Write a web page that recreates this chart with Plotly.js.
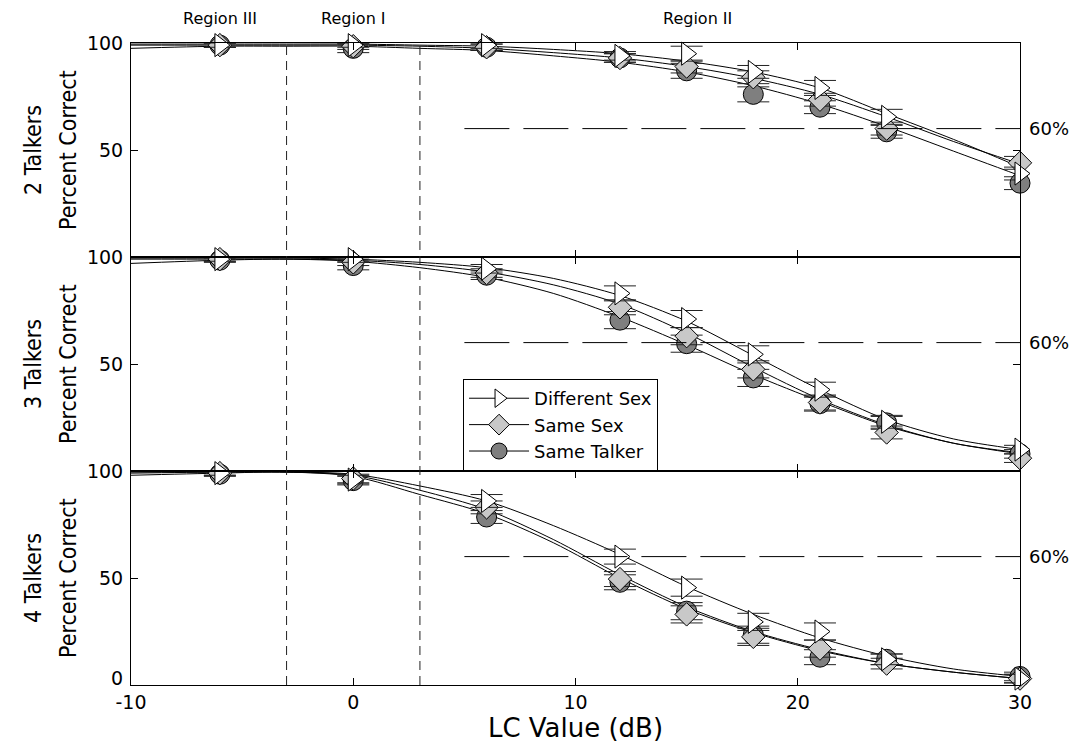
<!DOCTYPE html>
<html>
<head>
<meta charset="utf-8">
<script src="https://cdn.plot.ly/plotly-3.0.1.min.js"></script>
<style>html,body{margin:0;padding:0;background:#fff;}#chart{width:1080px;height:751px;}</style>
</head>
<body>
<div id="chart"></div>
<script>
// ---- data ----
const lcValues = [-6, 0, 6, 12, 15, 18, 21, 24, 30];
const seriesNames = ["Different Sex", "Same Sex", "Same Talker"];

// 2 talkers
const diffSex2 = [99, 99, 99, 94, 95, 86.5, 79, 65.5, 39];
const sameSex2 = [99, 98.5, 98, 93, 89, 84, 73.5, 60, 44];
const sameTalker2 = [99, 97.5, 98, 93, 87, 76, 70, 58.5, 34.5];
const errDiffSex2 = [1, 1, 1.5, 2, 3.5, 3, 3.5, 3.5, 3];
const errSameSex2 = [1, 1.5, 1.5, 2, 3, 3, 3, 3, 3];
const errSameTalker2 = [1, 2, 1.5, 2, 3.5, 3.5, 3, 3, 3];

// 3 talkers
const diffSex3 = [99, 99, 94.5, 83, 71, 54.5, 38, 23, 10];
const sameSex3 = [99, 97.5, 92.5, 76.5, 63, 47.5, 32, 18, 6];
const sameTalker3 = [98.5, 96, 91.5, 70.5, 59.5, 43.5, 31.5, 22.5, 8];
const errDiffSex3 = [1, 1.5, 2, 3.5, 4, 4, 3.5, 3, 2];
const errSameSex3 = [1, 1.5, 2, 3.5, 4, 4, 3.5, 3, 2];
const errSameTalker3 = [1, 2, 2, 4, 4, 4, 3.5, 3, 2];

// 4 talkers
const diffSex4 = [99, 96, 86, 60, 45.5, 29.5, 25, 12, 3];
const sameSex4 = [99, 96.5, 83, 49.5, 33, 22.5, 17, 10, 3];
const sameTalker4 = [98.5, 95.5, 78.5, 48, 34.5, 23.5, 13, 12, 4];
const errDiffSex4 = [1, 2, 3, 3.5, 4, 4, 4, 2.5, 2];
const errSameSex4 = [1, 2, 3, 3.5, 4, 4, 4, 2.5, 2];
const errSameTalker4 = [1, 2, 3, 3.5, 4, 4, 3.5, 2.5, 2];

// fitted psychometric curves
const curveX = [-10, -6, -3, 0, 3, 6, 9, 12, 15, 18, 21, 24, 27, 30];
const fitDiffSex2 = [99.5, 99.5, 99.5, 99.5, 99, 98.5, 97, 95, 91.5, 86.5, 79, 67, 55, 42];
const fitSameSex2 = [99, 99, 99, 99, 98.5, 97.5, 95.5, 93, 89, 83.5, 76, 65.5, 54, 43.5];
const fitSameTalker2 = [97.5, 98.5, 98.5, 98.5, 97.5, 96.5, 94, 91, 86.5, 80, 71.5, 61, 49.5, 38];
const fitDiffSex3 = [99.5, 99.5, 99.5, 99, 97.5, 95, 90, 82, 70, 54, 38, 24, 15, 10];
const fitSameSex3 = [99, 99, 99, 98.5, 96.5, 93, 87, 78, 64.5, 48.5, 33.5, 21.5, 13, 8.5];
const fitSameTalker3 = [97, 98.5, 99, 98, 95, 90.5, 83, 72, 59, 45, 32.5, 21, 13, 8];
const fitDiffSex4 = [99.5, 99.5, 99.5, 98.5, 93, 86, 74.5, 61, 46, 33, 22, 13.5, 7.5, 4];
const fitSameSex4 = [99, 99.5, 99.5, 98, 91, 82, 68, 51.5, 36.5, 25, 16.5, 10, 6, 3];
const fitSameTalker4 = [98, 99, 99.5, 97.5, 89, 80, 66.5, 50, 35.5, 24.5, 16, 10, 6, 3];

const talkerLabels = ["2 Talkers", "3 Talkers", "4 Talkers"];
const yTitle = "Percent Correct";
const xTitle = "LC Value (dB)";
const criterion = 60;
const criterionStart = 5;
const regionBounds = [-3, 3];
const regionLabels = ["Region III", "Region I", "Region II"];
const regionLabelX = [-6, 0, 15.5];
const xTicks = [-10, 0, 10, 20, 30];
const xTickText = ["-10", "0", "10", "20", "30"];

// ---- styles ----
const markerStyles = [
  {symbol: "triangle-right", size: 20, color: "#ffffff", line: {color: "#000", width: 1}},
  {symbol: "diamond", size: 18, color: "#c8c8c8", line: {color: "#000", width: 1}},
  {symbol: "circle", size: 20, color: "#7f7f7f", line: {color: "#000", width: 1}}
];
const wideFont = "DejaVu Sans, Verdana, sans-serif";
const narrowFont = "DejaVu Sans Condensed, Liberation Sans, sans-serif";

const panels = [
  {xa: "x3", ya: "y3", center: 5 / 6, vals: [diffSex2, sameSex2, sameTalker2], errs: [errDiffSex2, errSameSex2, errSameTalker2], fits: [fitDiffSex2, fitSameSex2, fitSameTalker2]},
  {xa: "x2", ya: "y2", center: 0.5, vals: [diffSex3, sameSex3, sameTalker3], errs: [errDiffSex3, errSameSex3, errSameTalker3], fits: [fitDiffSex3, fitSameSex3, fitSameTalker3]},
  {xa: "x", ya: "y", center: 1 / 6, vals: [diffSex4, sameSex4, sameTalker4], errs: [errDiffSex4, errSameSex4, errSameTalker4], fits: [fitDiffSex4, fitSameSex4, fitSameTalker4]}
];

const traces = [];
panels.forEach(p => {
  p.fits.forEach((f, i) => {
    traces.push({
      x: curveX, y: f, xaxis: p.xa, yaxis: p.ya, mode: "lines",
      line: {color: "#000", width: 1, shape: "spline", smoothing: 0.8},
      showlegend: false, hoverinfo: "skip"
    });
  });
  [2, 1, 0].forEach(i => {
    traces.push({
      x: lcValues, y: p.vals[i], xaxis: p.xa, yaxis: p.ya, mode: "markers",
      marker: markerStyles[i], name: seriesNames[i], showlegend: false, cliponaxis: false,
      error_y: {type: "data", array: p.errs[i], visible: true, color: "#222", thickness: 1, width: 16}
    });
  });
});
// legend entries
[0, 1, 2].forEach(i => {
  traces.push({
    x: [null], y: [null], xaxis: "x2", yaxis: "y2", mode: "lines+markers",
    name: seriesNames[i], marker: markerStyles[i], line: {color: "#000", width: 1}, showlegend: true
  });
});

function xAxis(anchor, labels) {
  return {
    anchor: anchor, domain: [0, 1], range: [-10, 30], tickvals: xTicks, ticktext: xTickText, ticks: "inside", ticklen: 7,
    tickcolor: "#000", showline: true, linecolor: "#000", linewidth: 1, mirror: "ticks",
    showgrid: false, zeroline: false, showticklabels: labels,
    tickfont: {family: wideFont, size: 19, color: "#000"}
  };
}
function yAxis(anchor, domain) {
  return {
    anchor: anchor, domain: domain, range: [0, 100], tickvals: [0, 50, 100],
    ticktext: ["", "50", "100"], ticks: "inside", ticklen: 7, tickcolor: "#000",
    showline: true, linecolor: "#000", linewidth: 1, mirror: "ticks", showgrid: false, zeroline: false,
    tickfont: {family: wideFont, size: 19, color: "#000"}, ticklabelstandoff: 3
  };
}

const shapes = [];
const annotations = [];
panels.forEach(p => {
  shapes.push({type: "line", xref: p.xa, yref: p.ya, x0: criterionStart, x1: 30, y0: criterion, y1: criterion,
    line: {color: "#000", width: 1, dash: "45px,14px"}});
  annotations.push({xref: "paper", yref: p.ya, x: 1, y: criterion, text: criterion + "%", showarrow: false,
    xanchor: "left", xshift: 7, font: {family: wideFont, size: 18, color: "#000"}});
});
// two-line y titles of each panel
panels.forEach((p, k) => {
  annotations.push({xref: "paper", yref: "paper", x: -0.1102, y: p.center, text: talkerLabels[k], textangle: -90,
    showarrow: false, xanchor: "center", yanchor: "middle", font: {family: narrowFont, size: 23, color: "#000"}});
  annotations.push({xref: "paper", yref: "paper", x: -0.0709, y: p.center, text: yTitle, textangle: -90,
    showarrow: false, xanchor: "center", yanchor: "middle", font: {family: narrowFont, size: 23, color: "#000"}});
});
// zero label of the bottom panel, raised a little above the corner like the original
annotations.push({xref: "paper", yref: "y", x: 0, y: 0, text: "0", showarrow: false, xanchor: "right",
  yanchor: "middle", xshift: -6, yshift: 7, font: {family: wideFont, size: 19, color: "#000"}});
regionBounds.forEach(b => {
  shapes.push({type: "line", xref: "x", yref: "paper", x0: b, x1: b, y0: 0, y1: 1,
    line: {color: "#222", width: 1, dash: "9px,6px"}});
});
regionLabels.forEach((t, i) => {
  annotations.push({xref: "x", yref: "paper", x: regionLabelX[i], y: 1, yanchor: "middle", yshift: 25,
    text: t, showarrow: false, font: {family: wideFont, size: 16, color: "#000"}});
});

const layout = {
  width: 1080, height: 751,
  margin: {l: 131, r: 60, t: 43, b: 66},
  paper_bgcolor: "#fff", plot_bgcolor: "#fff",
  showlegend: true,
  legend: {x: 0.3735, y: 0.4766, xanchor: "left", yanchor: "top", bgcolor: "#fff", bordercolor: "#000",
    borderwidth: 1, font: {family: wideFont, size: 18, color: "#000"},
    tracegroupgap: 0, itemwidth: 60},
  xaxis: Object.assign(xAxis("y", true), {title: {text: xTitle, font: {family: wideFont, size: 26, color: "#000"}, standoff: 4}}),
  xaxis2: Object.assign(xAxis("y2", false), {matches: "x"}),
  xaxis3: Object.assign(xAxis("y3", false), {matches: "x"}),
  yaxis: yAxis("x", [0, 1 / 3]),
  yaxis2: yAxis("x2", [1 / 3, 2 / 3]),
  yaxis3: yAxis("x3", [2 / 3, 1]),
  shapes: shapes,
  annotations: annotations
};

Plotly.newPlot("chart", traces, layout, {displayModeBar: false, staticPlot: true});
</script>
</body>
</html>
